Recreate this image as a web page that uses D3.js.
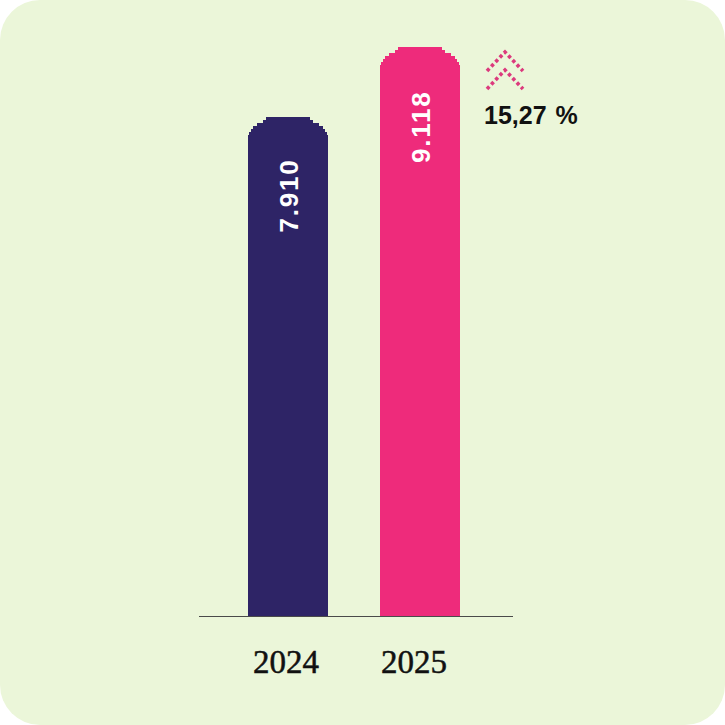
<!DOCTYPE html>
<html>
<head>
<meta charset="utf-8">
<script src="https://cdn.jsdelivr.net/npm/d3@7"></script>
<style>
  html, body { margin: 0; padding: 0; background: #ffffff; }
  svg { display: block; }
</style>
</head>
<body>
<div id="chart"></div>
<script>
  // ---- data ----
  const years = ['2024', '2025'];
  const values = [7910, 9118];
  const valueLabels = ['7.910', '9.118'];
  const barColors = ['#2e2466', '#ee2b7b'];
  const changeLabel = '15,27 %';

  const W = 725, H = 725;

  const svg = d3.select('#chart').append('svg')
    .attr('width', W).attr('height', H);

  // card background
  svg.append('rect')
    .attr('x', 0).attr('y', 0).attr('width', W).attr('height', H)
    .attr('rx', 40).attr('ry', 40)
    .attr('fill', '#ebf6d9');

  // scales (domain offset to match the drawn proportions)
  const x = d3.scaleBand().domain(years).range([248, 460]).paddingInner(52 / 132).paddingOuter(0);
  const y = d3.scaleLinear().domain([-760, 9118]).range([616, 47]);

  const domeH = 21;
  const stepH = 3;

  // stepped (pixel-like) rounded top path
  function barPath(x0, w, top, bottom) {
    const rx = w / 2, cx = x0 + rx;
    const rows = [];
    for (let dy = domeH; dy > 0; dy -= stepH) {
      const t = (dy - stepH / 2) / domeH;
      const hw = rx * Math.sqrt(Math.max(0, 1 - Math.pow(1 - t, 2)));
      rows.push({ y: top + dy, hw: Math.max(hw, rx * 0.55) });
    }
    let p = `M${x0 + w},${bottom}`;
    let curY = bottom;
    rows.forEach(r => {
      p += `L${cx + r.hw},${curY}`;
      p += `L${cx + r.hw},${r.y - stepH}`;
      curY = r.y - stepH;
    });
    p += `L${cx + rows[rows.length - 1].hw},${top}`;
    p += `L${cx - rows[rows.length - 1].hw},${top}`;
    curY = top;
    for (let i = rows.length - 1; i >= 0; i--) {
      const r = rows[i];
      p += `L${cx - r.hw},${curY}`;
      curY = (i > 0) ? rows[i - 1].y - stepH : bottom;
      p += `L${cx - r.hw},${curY}`;
    }
    p += `L${x0},${bottom}Z`;
    return p;
  }

  const bars = svg.append('g');
  bars.selectAll('path.bar')
    .data(values)
    .join('path')
    .attr('class', 'bar')
    .attr('fill', (d, i) => barColors[i])
    .attr('shape-rendering', 'crispEdges')
    .attr('d', (d, i) => barPath(x(years[i]), x.bandwidth(), y(d), y(-760)));

  // value labels, rotated
  svg.append('g').selectAll('text')
    .data(values)
    .join('text')
    .attr('transform', (d, i) => `translate(${x(years[i]) + x.bandwidth() / 2 + 9.5},${y(d) + 116}) rotate(-90)`)
    .attr('text-anchor', 'start')
    .attr('font-family', '"Liberation Sans", Arial, sans-serif')
    .attr('font-weight', 'bold')
    .attr('font-size', 26)
    .attr('letter-spacing', 1.8)
    .attr('fill', '#ffffff')
    .text((d, i) => valueLabels[i]);

  // baseline
  svg.append('line')
    .attr('x1', 199).attr('x2', 513)
    .attr('y1', y(-760) + 0.5).attr('y2', y(-760) + 0.5)
    .attr('stroke', '#4a4a4a').attr('stroke-width', 1);

  // year labels
  svg.append('g').selectAll('text')
    .data(years)
    .join('text')
    .attr('x', (d, i) => x(d) + x.bandwidth() / 2 - 2 - 4 * i)
    .attr('y', 673)
    .attr('text-anchor', 'middle')
    .attr('font-family', '"Liberation Serif", "Times New Roman", serif')
    .attr('font-size', 33)
    .attr('fill', '#111111')
    .attr('stroke', '#111111')
    .attr('stroke-width', 0.5)
    .text(d => d);

  // change indicator: dotted double chevron
  const chev = svg.append('g')
    .attr('fill', 'none')
    .attr('stroke', '#dc3a7d')
    .attr('stroke-width', 3.6)
    .attr('stroke-dasharray', '3.4,2.8');
  [52, 70].forEach(ay => {
    chev.append('path')
      .attr('d', `M487,${ay + 19}L505,${ay}L523,${ay + 19}`);
  });

  svg.append('text')
    .attr('x', 484).attr('y', 124)
    .attr('font-family', '"Liberation Sans", Arial, sans-serif')
    .attr('font-weight', 'bold')
    .attr('font-size', 25)
    .attr('word-spacing', 2)
    .attr('fill', '#111111')
    .text(changeLabel);
</script>
</body>
</html>
